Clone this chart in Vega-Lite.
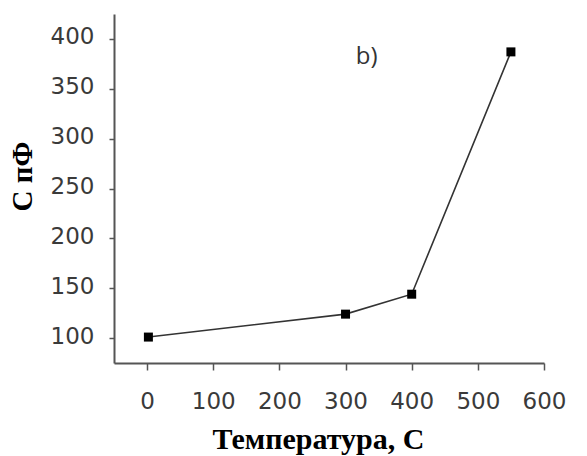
{
  "$schema": "https://vega.github.io/schema/vega-lite/v6.json",
  "width": 430,
  "height": 349,
  "autosize": {"type": "none"},
  "padding": {"left": 114, "top": 14, "right": 43, "bottom": 93},
  "background": "white",
  "config": {"view": {"stroke": null}},
  "data": {"values": [
    {"t": 2, "c": 101},
    {"t": 300, "c": 124},
    {"t": 400, "c": 144},
    {"t": 550, "c": 387}
  ]},
  "layer": [
    {
      "mark": {"type": "line", "color": "#333333", "strokeWidth": 1.6},
      "encoding": {
        "x": {
          "field": "t", "type": "quantitative",
          "scale": {"domain": [-50, 600], "nice": false, "zero": false},
          "axis": {
            "values": [0, 50, 100, 150, 200, 250, 300, 350, 400, 450, 500, 550, 600],
            "labelExpr": "datum.value % 100 === 0 ? datum.label : ''",
            "tickSize": {"condition": {"test": "datum.value % 100 !== 0", "value": 3}, "value": 7},
            "labelFlush": false,
            "labelOverlap": false,
            "grid": false,
            "domainColor": "#555555", "domainWidth": 2,
            "tickColor": "#555555", "tickWidth": 1.5,
            "labelFont": "DejaVu Sans", "labelFontSize": 23, "labelColor": "#3a3a3a",
            "labelPadding": 20,
            "title": "Температура, С",
            "titleFont": "Liberation Serif", "titleFontSize": 30, "titleFontWeight": "bold", "titleColor": "black",
            "titleX": 204, "titleY": 85, "titleBaseline": "alphabetic", "titleAlign": "center"
          }
        },
        "y": {
          "field": "c", "type": "quantitative",
          "scale": {"domain": [75, 425], "nice": false, "zero": false},
          "axis": {
            "values": [100, 125, 150, 175, 200, 225, 250, 275, 300, 325, 350, 375, 400],
            "labelExpr": "datum.value % 50 === 0 ? datum.label : ''",
            "tickSize": {"condition": {"test": "datum.value % 50 !== 0", "value": 3}, "value": 5},
            "labelOffset": -2,
            "labelFlush": false,
            "labelOverlap": false,
            "grid": false,
            "domainColor": "#555555", "domainWidth": 2,
            "tickColor": "#555555", "tickWidth": 1.5,
            "labelFont": "DejaVu Sans", "labelFontSize": 23, "labelColor": "#3a3a3a",
            "labelPadding": 15,
            "title": "С  пФ",
            "titleFont": "Liberation Serif", "titleFontSize": 29, "titleFontWeight": "bold", "titleColor": "black",
            "titleX": -92, "titleY": 162, "titleBaseline": "middle", "titleAlign": "center", "titleAngle": -90
          }
        }
      }
    },
    {
      "mark": {"type": "square", "size": 81, "color": "black", "opacity": 1, "filled": true},
      "encoding": {
        "x": {"field": "t", "type": "quantitative"},
        "y": {"field": "c", "type": "quantitative"}
      }
    },
    {
      "data": {"values": [{"label": "b)"}]},
      "mark": {"type": "text", "fontSize": 24, "font": "Open Sans", "color": "#333333"},
      "encoding": {
        "text": {"field": "label"},
        "x": {"datum": 332},
        "y": {"datum": 382}
      }
    }
  ]
}
